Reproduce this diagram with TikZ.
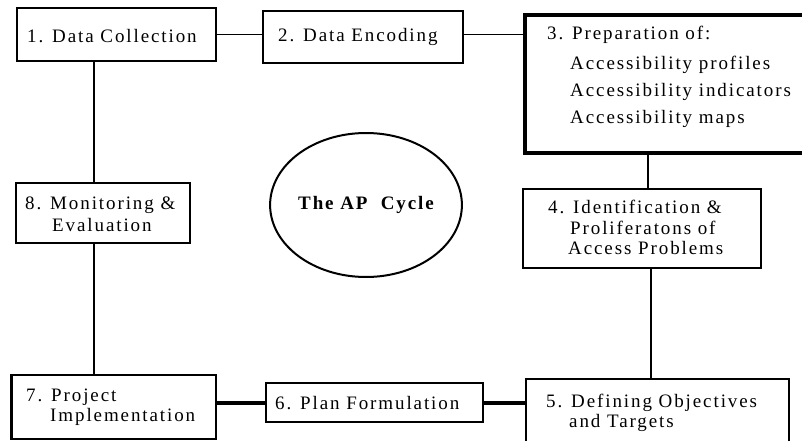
\documentclass[tikz,border=0pt]{standalone}
\usepackage{fontspec}
\setmainfont{Liberation Serif}[LetterSpace=10]
\usepackage{tikz}
\usetikzlibrary{shapes.geometric}

\begin{document}
\begin{tikzpicture}[x=1pt,y=-1pt,
  box/.style={draw,line width=1.5pt,rectangle,inner sep=0pt},
  lbl/.style={anchor=west,align=left,inner sep=0pt,font=\fontsize{19}{20}\selectfont},
  link/.style={line width=1.5pt},
  thicklink/.style={line width=4pt}]
  \useasboundingbox (0,0) rectangle (802,441);
  \clip (0,0) rectangle (802,441);
  \node[box,minimum width=199pt,minimum height=53pt] (b1) at (116.5,34.5) {};
  \node[box,minimum width=200pt,minimum height=52pt] (b2) at (363,37) {};
  \node[box,line width=4pt,minimum width=305pt,minimum height=138pt] (b3) at (677.5,84) {};
  \node[box,minimum width=238pt,minimum height=79pt] (b4) at (642,228.5) {};
  \node[box,minimum width=263pt,minimum height=66pt] (b5) at (657.5,412) {};
  \node[box,minimum width=217pt,minimum height=39pt] (b6) at (374.5,402.5) {};
  \node[box,minimum width=204pt,minimum height=64pt] (b7) at (114,407) {};
  \node[box,minimum width=174pt,minimum height=60pt] (b8) at (103,213) {};
  \node[draw,ellipse,line width=2pt,minimum width=186pt,minimum height=144pt,inner sep=0pt,
    font=\fontsize{19}{20}\selectfont\bfseries] (cyc) at (366,205) {The AP\ \ Cycle};
  \draw[line width=3.5pt] (b7.north west) -- (b7.south west);
  \coordinate (lx) at (94,0);
  \draw[link] (b1.east) -- (b1.east -| b2.west);
  \draw[link] (b1.east -| b2.east) -- (b1.east -| b3.west);
  \draw[link] ([xshift=6pt]b4.north) -- ([xshift=6pt]b4.north |- b3.south);
  \draw[link] ([xshift=9pt]b4.south) -- ([xshift=9pt]b4.south |- b5.north);
  \draw[thicklink] (b6.east) -- (b6.east -| b5.west);
  \draw[thicklink] (b6.west) -- (b6.west -| b7.east);
  \draw[link] (b1.south -| lx) -- (b8.north -| lx);
  \draw[link] (b8.south -| lx) -- (b7.north -| lx);
  \node[lbl] (t1) at (27,36) {1. Data Collection};
  \node[lbl] (t2) at (278,37) {2. Data Encoding};
  \node[lbl,font=\fontsize{19}{27}\selectfont] (t3) at (547,77) {3. Preparation of:\\[3pt]
    \hspace*{23pt}Accessibility profiles\\
    \hspace*{23pt}Accessibility indicators\\
    \hspace*{23pt}Accessibility maps};
  \node[lbl,font=\fontsize{19}{20.5}\selectfont] (t4) at (548,227.5) {4. Identification \&\\
    \hspace*{22pt}Proliferatons of\\
    \hspace*{20pt}Access Problems};
  \node[lbl] (t5) at (546,413) {5. Defining Objectives\\\hspace*{23pt}and Targets};
  \node[lbl] (t6) at (275,403) {6. Plan Formulation};
  \node[lbl] (t7) at (26,407) {7. Project\\\hspace*{24pt}Implementation};
  \node[lbl,font=\fontsize{19}{22}\selectfont] (t8) at (25,214) {8. Monitoring \&\\\hspace*{27pt}Evaluation};
\end{tikzpicture}
\end{document}
